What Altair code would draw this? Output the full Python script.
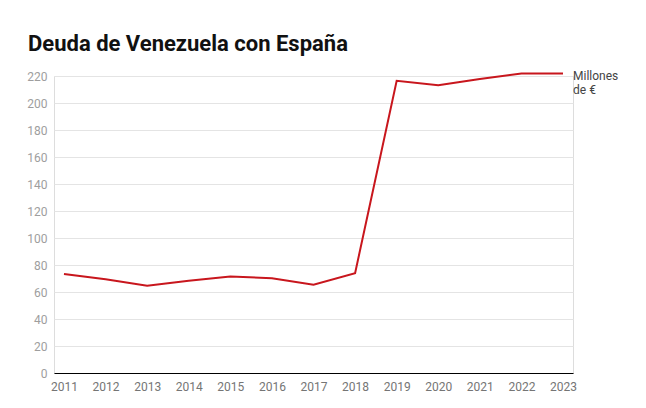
import altair as alt
import pandas as pd

# Deuda de Venezuela con España, millones de euros
years = ["2011", "2012", "2013", "2014", "2015", "2016", "2017",
         "2018", "2019", "2020", "2021", "2022", "2023"]
debt = [73.3, 69.5, 64.7, 68.4, 71.4, 70.2, 65.4,
        73.9, 216.5, 213.2, 217.8, 221.8, 221.8]
unit_label = ["Millones", "de €"]

df = pd.DataFrame({"year": years, "debt": debt})
last = df.tail(1).assign(label=[unit_label])

FONT = "Roboto"

x = alt.X(
    "year:O",
    scale=alt.Scale(type="point", padding=0.24),
    axis=alt.Axis(
        title=None, labelAngle=0, ticks=False, domain=True,
        domainColor="#000000", domainWidth=1, labelPadding=8,
        labelColor="#757575", labelFontSize=12, labelFont=FONT, grid=False,
    ),
)
y = alt.Y(
    "debt:Q",
    scale=alt.Scale(domain=[0, 220], nice=False, zero=True),
    axis=alt.Axis(
        title=None, values=list(range(0, 221, 20)), ticks=False, domain=False,
        labelPadding=7, labelColor="#9e9e9e", labelFontSize=12, labelFont=FONT,
        grid=True, gridColor="#e4e4e4", gridWidth=1,
    ),
)

line = alt.Chart(df).mark_line(color="#c8161d", strokeWidth=2, clip=False).encode(x=x, y=y)

label = alt.Chart(last).mark_text(
    align="left", baseline="top", dx=10, dy=-3, lineHeight=14,
    font=FONT, fontSize=12, color="#444444",
).encode(x=x, y=y, text="label")

chart = (
    alt.layer(line, label)
    .properties(
        width=519, height=297,
        padding={"left": 54, "top": 76, "right": 73, "bottom": 35},
        autosize=alt.AutoSizeParams(type="none"),
        title=alt.TitleParams(
            "Deuda de Venezuela con España",
            anchor="start", frame="group", font=FONT, fontSize=22,
            fontWeight="bold", color="#111111", dx=-26, offset=14,
        ),
    )
    .configure_view(stroke=None)
    .configure(background="#ffffff")
)

chart.save("out.html", embed_options={"renderer": "svg", "actions": False})
